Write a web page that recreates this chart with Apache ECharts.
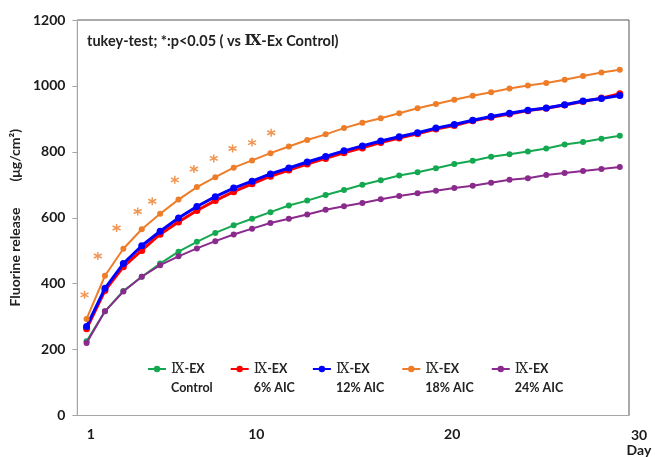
<!DOCTYPE html>
<html>
<head>
<meta charset="utf-8">
<script src="https://cdn.jsdelivr.net/npm/echarts@6/dist/echarts.min.js"></script>
<style>
  html, body { margin: 0; padding: 0; background: #fff; }
  #main { width: 655px; height: 457px; }
</style>
</head>
<body>
<div id="main"></div>
<script>
var myChart = echarts.init(document.getElementById('main'));

// days 1..30
var days = [];
for (var d = 1; d <= 30; d++) days.push(String(d));

var groups = ['Control', '6% AIC', '12% AIC', '18% AIC', '24% AIC'];
var names = groups.map(function (g) { return 'Ⅸ-EX ' + g; });
var colors = ['#14a850', '#ff0000', '#0000ff', '#ee7d2a', '#8a2a8c'];

var control = [225, 316, 378, 421, 461, 497, 527, 554, 577, 597, 617, 637, 652, 669, 684, 700, 714, 728, 738, 750, 763, 773, 785, 793, 801, 810, 822, 830, 840, 849];
var aic6 = [263, 379, 451, 501, 550, 587, 622, 652, 679, 703, 726, 745, 763, 780, 797, 812, 828, 842, 855, 869, 880, 894, 905, 915, 925, 932, 942, 953, 963, 976];
var aic12 = [270, 386, 461, 515, 559, 599, 634, 664, 690, 711, 733, 751, 769, 786, 803, 818, 833, 846, 858, 872, 883, 896, 907, 917, 926, 933, 943, 954, 962, 971];
var aic18 = [293, 424, 506, 565, 612, 655, 693, 723, 752, 774, 796, 816, 836, 853, 872, 888, 902, 917, 932, 945, 958, 970, 981, 992, 1001, 1009, 1019, 1030, 1041, 1049];
var aic24 = [220, 316, 376, 421, 456, 483, 507, 529, 549, 567, 584, 597, 610, 624, 635, 645, 656, 666, 674, 682, 690, 697, 706, 715, 720, 730, 736, 742, 748, 754];

// significance asterisks (18% AIC vs control)
var starX = [0.39, 1.11, 2.13, 3.28, 4.07, 5.30, 6.34, 7.42, 8.44, 9.50, 10.54];
var starY = [366, 484, 569, 619, 650, 715, 748, 780, 810, 828, 858];

var xTicks = [1, 10, 20, 30];
var yTicks = { min: 0, max: 1200, step: 200 };

var FONT = 'Lato, "Open Sans", sans-serif';
var ROMAN = '"DejaVu Serif", "Liberation Serif", serif';
var TXT = '#222';
var values = [control, aic6, aic12, aic18, aic24];

var series = values.map(function (v, i) {
    var thick = (i === 1 || i === 2);
    return {
        name: names[i],
        type: 'line',
        data: v,
        symbol: 'circle',
        symbolSize: thick ? 7 : 6,
        color: colors[i],
        lineStyle: { width: thick ? 3 : 2 },
        z: 3 + i
    };
});

series.push({
    name: 'p<0.05',
    type: 'scatter',
    xAxisIndex: 1,
    data: starX.map(function (x, i) { return [x, starY[i]]; }),
    symbol: 'path://M0,-10L0,10M-8.66,-5L8.66,5M-8.66,5L8.66,-5',
    symbolSize: 8,
    itemStyle: { color: 'none', borderColor: '#ee7d2a', borderWidth: 1.5 },
    z: 10
});

var lab = { fontFamily: FONT, fontSize: 14, fontWeight: 'bold', color: '#1a1a1a' };

myChart.setOption({
    animation: false,
    title: {
        text: '{t|tukey-test; *:p<0.05 ( vs }{r|Ⅸ}{t|-Ex Control)}',
        left: 87,
        top: 34,
        padding: 0,
        textStyle: {
            rich: {
                t: { fontFamily: FONT, fontSize: 14.5, fontWeight: 'bold', color: TXT },
                r: { fontFamily: ROMAN, fontSize: 15, color: TXT }
            }
        }
    },
    grid: {
        left: 72, right: 26, top: 20, bottom: 39,
        show: true, borderColor: '#555', borderWidth: 1
    },
    legend: {
        data: names,
        left: 147,
        top: 344,
        padding: 0,
        itemWidth: 18,
        itemHeight: 8,
        itemGap: 17,
        selectedMode: false,
        formatter: function (n) {
            return '{s| }\n{r|Ⅸ}{t|-EX}\n{t|' + n.slice(5) + '}';
        },
        textStyle: {
            align: 'left',
            rich: {
                s: { fontSize: 12, lineHeight: 19 },
                r: { fontFamily: ROMAN, fontSize: 14, color: TXT, lineHeight: 19 },
                t: { fontFamily: FONT, fontSize: 12.5, fontWeight: 'bold', color: TXT, lineHeight: 19 }
            }
        }
    },
    xAxis: [{
        type: 'category',
        data: days,
        boundaryGap: true,
        axisLine: { lineStyle: { color: '#a6a6a6' } },
        axisTick: { interval: 0, length: 4, lineStyle: { color: '#a6a6a6' } },
        axisLabel: { show: false },
        splitLine: { show: false }
    }, {
        type: 'value',
        min: 0,
        max: 30,
        position: 'bottom',
        axisLine: { show: false },
        axisTick: { show: false },
        splitLine: { show: false },
        axisLabel: Object.assign({
            customValues: xTicks,
            margin: 12,
            formatter: function (v) {
                if (v === 30) return '{e|30}\n{e|Day}';
                if (v === 20) return '{m|20}';
                return '{l|' + v + '}';
            },
            rich: {
                e: Object.assign({ padding: [0, 0, 0, 20], lineHeight: 15 }, lab),
                m: Object.assign({ padding: [0, 0, 0, 14] }, lab),
                l: Object.assign({ padding: [0, 10, 0, 0] }, lab)
            }
        }, lab)
    }],
    yAxis: {
        type: 'value',
        min: yTicks.min,
        max: yTicks.max,
        interval: yTicks.step,
        name: '{t|Fluorine release}{g|}{t|(μg/cm²)}',
        nameLocation: 'middle',
        nameGap: 47,
        nameRotate: 90,
        nameTextStyle: {
            rich: {
                t: { fontFamily: FONT, fontSize: 14, fontWeight: 'bold', color: TXT },
                g: { width: 26 }
            }
        },
        axisLine: { show: true, lineStyle: { color: '#a6a6a6' } },
        axisTick: { show: true, length: 5, lineStyle: { color: '#a6a6a6' } },
        splitLine: { show: false },
        axisLabel: Object.assign({
            margin: 12,
            formatter: function (v) { return String(v); }
        }, lab)
    },
    series: series
});
</script>
</body>
</html>
